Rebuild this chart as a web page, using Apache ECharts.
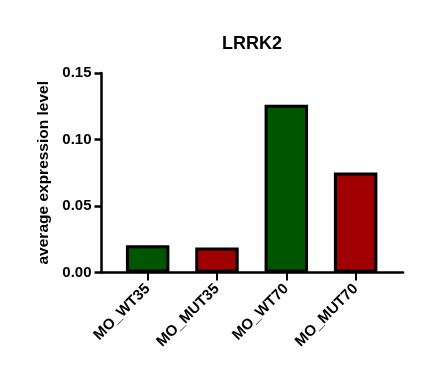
<!DOCTYPE html>
<html><head><meta charset="utf-8">
<script src="https://cdn.jsdelivr.net/npm/echarts@6/dist/echarts.min.js"></script>
<style>html,body{margin:0;padding:0;background:#fff}#c{width:439px;height:374px}</style>
</head><body><div id="c"></div>
<script>
const categories = ['MO_WT35', 'MO_MUT35', 'MO_WT70', 'MO_MUT70'];
const values = [0.0205, 0.0188, 0.1262, 0.0752];
const barColors = ['#005500', '#a00000', '#005500', '#a00000'];
const yTicks = [0, 0.05, 0.10, 0.15];
const titleText = 'LRRK2';
const yName = 'average expression level';

const FONT = 'Liberation Sans, Arial, sans-serif';
const chart = echarts.init(document.getElementById('c'));
chart.setOption({
  animation: false,
  title: {
    text: titleText, left: 217, top: 30,
    textStyle: {fontFamily: FONT, fontWeight: 'bold', fontSize: 18, color: '#000'}
  },
  grid: [
    {left: 113, top: 73, width: 277.3, height: 199.5},
    {left: 101.5, top: 73, width: 301.5, height: 199.5}
  ],
  xAxis: [
    {
      type: 'category', gridIndex: 0, data: categories,
      axisLine: {show: false},
      axisTick: {show: true, alignWithLabel: true, length: 8, lineStyle: {color: '#000', width: 2}},
      axisLabel: {rotate: 45, margin: 14, color: '#000', fontFamily: FONT, fontWeight: 'bold', fontSize: 15}
    },
    {
      type: 'value', gridIndex: 1, min: 0, max: 1,
      axisLine: {show: true, lineStyle: {color: '#000', width: 2.5}},
      axisTick: {show: false}, axisLabel: {show: false}, splitLine: {show: false}
    }
  ],
  yAxis: [
    {
      type: 'value', gridIndex: 0, min: 0, max: 0.15, interval: 0.05,
      show: false, splitLine: {show: false}
    },
    {
      type: 'value', gridIndex: 1, min: 0, max: 0.15, interval: 0.05,
      name: yName, nameLocation: 'middle', nameGap: 45, nameRotate: 90,
      nameTextStyle: {fontFamily: FONT, fontWeight: 'bold', fontSize: 15.5, color: '#000'},
      axisLine: {show: true, lineStyle: {color: '#000', width: 2.5}},
      axisTick: {show: true, length: 7, lineStyle: {color: '#000', width: 2.5}},
      axisLabel: {margin: 10, color: '#000', fontFamily: FONT, fontWeight: 'bold', fontSize: 15,
        formatter: v => yTicks.includes(Math.round(v*100)/100) ? v.toFixed(2) : ''},
      splitLine: {show: false}
    }
  ],
  series: [{
    type: 'bar', xAxisIndex: 0, yAxisIndex: 0,
    barWidth: 43.5,
    data: values.map((v, i) => ({value: v, itemStyle: {color: barColors[i]}})),
    itemStyle: {borderColor: '#000', borderWidth: 3}
  }]
});
</script></body></html>
